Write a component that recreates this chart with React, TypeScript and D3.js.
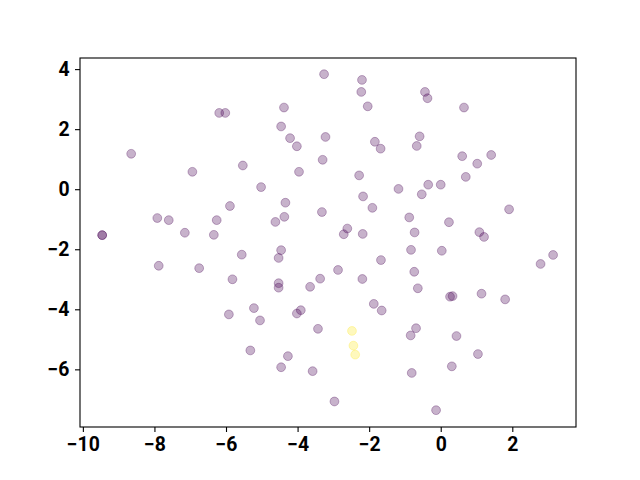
import { useEffect, useRef } from "react";
import * as d3 from "d3";

// point coordinates (label 0 = purple, 1 = yellow)
const xs = [
  -3.26, -4.38, -6.19, -6.02, -4.46, -4.21, -3.22, -4.02, -8.65, -3.3,
  -5.53, -6.94, -3.96, -5.02, -4.34, -5.89, -3.32, -7.92, -7.6, -6.26,
  -4.37, -4.62, -9.46, -9.46, -7.15, -6.34, -2.2, -2.22, -0.44, -0.37,
  -2.04, 0.65, -1.84, -1.68, -0.59, -0.67, 0.6, 1.41, 1.02, -2.28,
  0.7, -1.18, -0.35, 0.0, -0.53, -2.17, -1.91, 1.91, -0.88, 0.23,
  -2.61, -2.71, -2.18, -0.73, 1.08, 1.21, -4.46, -5.56, -4.53, -7.88,
  -6.75, -5.82, -3.37, -4.53, -4.53, -3.65, -5.22, -5.92, -5.05, -4.02,
  -3.91, -3.43, -5.32, -4.27, -4.46, -3.58, -0.83, 0.03, -1.67, -2.87,
  -2.19, -0.74, 3.14, 2.79, -0.64, 0.26, 0.33, 1.14, 1.8, -1.87,
  -1.65, -0.69, -0.84, 0.44, 1.04, 0.31, -0.81, -2.97, -0.13,
  -2.48, -2.44, -2.39,
];
const ys = [
  3.83, 2.72, 2.54, 2.54, 2.09, 1.7, 1.74, 1.43, 1.18, 0.98,
  0.79, 0.58, 0.58, 0.07, -0.45, -0.56, -0.76, -0.96, -1.03, -1.03,
  -0.92, -1.09, -1.53, -1.53, -1.45, -1.52, 3.64, 3.24, 3.24, 3.03,
  2.76, 2.72, 1.58, 1.35, 1.76, 1.44, 1.1, 1.14, 0.85, 0.46,
  0.41, 0.01, 0.15, 0.15, -0.17, -0.24, -0.62, -0.67, -0.94, -1.1,
  -1.31, -1.5, -1.49, -1.44, -1.43, -1.59, -2.03, -2.18, -2.29, -2.55,
  -2.63, -3.0, -2.98, -3.13, -3.28, -3.25, -3.96, -4.17, -4.37, -4.14,
  -4.03, -4.65, -5.37, -5.56, -5.93, -6.06, -2.02, -2.05, -2.36, -2.69,
  -2.99, -2.75, -2.19, -2.49, -3.3, -3.58, -3.56, -3.48, -3.67, -3.82,
  -4.04, -4.63, -4.87, -4.89, -5.49, -5.9, -6.12, -7.07, -7.36,
  -4.72, -5.21, -5.51,
];
const labels = [
  ...Array(99).fill(0),
  1, 1, 1,
];
const xTicks = [-10, -8, -6, -4, -2, 0, 2];
const yTicks = [4, 2, 0, -2, -4, -6];

const width = 640;
const height = 480;
const marginTop = 58;
const marginBottom = 53;
const marginLeft = 80;
const marginRight = 64;

const App = () => {
  const xAxisRef = useRef<SVGGElement>(null);
  const yAxisRef = useRef<SVGGElement>(null);

  const xScale = d3
    .scaleLinear()
    .domain([-10.08, 3.78])
    .range([marginLeft, width - marginRight]);

  const yScale = d3
    .scaleLinear()
    .domain([-7.92, 4.37])
    .range([height - marginBottom, marginTop]);

  const color = d3
    .scaleOrdinal<number, string>()
    .domain([0, 1])
    .range([d3.interpolateViridis(0), d3.interpolateViridis(1)]);

  useEffect(() => {
    const fmt = d3.format("d");
    const xAxis = d3.axisBottom(xScale).tickValues(xTicks).tickFormat(fmt).tickSizeOuter(0).tickSize(5).tickPadding(5);
    const yAxis = d3.axisLeft(yScale).tickValues(yTicks).tickFormat(fmt).tickSizeOuter(0).tickSize(5).tickPadding(5.5);

    const gx = d3.select(xAxisRef.current).call(xAxis);
    const gy = d3.select(yAxisRef.current).call(yAxis);
    [gx, gy].forEach((g) => {
      g.select(".domain").remove();
      g.selectAll("line").attr("stroke", "#000").attr("stroke-width", 1.1);
      g.selectAll("text")
        .attr("font-family", "Roboto, 'DejaVu Sans', sans-serif")
        .attr("font-weight", "bold")
        .attr("font-size", 19.4)
        .attr("fill", "#000");
    });
  }, []);

  return (
    <svg
      width={width}
      height={height}
      viewBox={`0 0 ${width} ${height}`}
      style={{ position: "absolute", left: 0, top: 0, background: "#fff" }}
    >
      <rect x={0} y={0} width={width} height={height} fill="#fff" />
      <g className="points">
        {xs.map((x, i) => (
          <circle
            key={i}
            cx={xScale(x)}
            cy={yScale(ys[i])}
            r={4.4}
            fill={color(labels[i])}
            fillOpacity={0.3}
            stroke={color(labels[i])}
            strokeOpacity={0.3}
            strokeWidth={1}
          />
        ))}
      </g>
      <rect
        x={marginLeft}
        y={marginTop}
        width={width - marginLeft - marginRight}
        height={height - marginTop - marginBottom}
        fill="none"
        stroke="#000"
        strokeWidth={1.1}
      />
      <g ref={xAxisRef} transform={`translate(0,${height - marginBottom})`} />
      <g ref={yAxisRef} transform={`translate(${marginLeft},0)`} />
    </svg>
  );
};

export default App;
